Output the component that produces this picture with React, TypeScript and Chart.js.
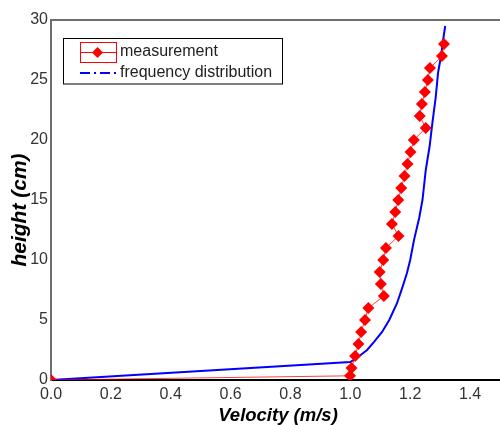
import React, { useEffect, useRef } from "react";
import { Chart, registerables } from "chart.js";

Chart.register(...registerables);

const measVelocity = [0, 0.999, 1.004, 1.016, 1.027, 1.036, 1.049, 1.06, 1.112, 1.102, 1.098, 1.11, 1.119, 1.161, 1.139, 1.15, 1.16, 1.17, 1.181, 1.191, 1.201, 1.212, 1.252, 1.232, 1.239, 1.249, 1.259, 1.266, 1.306, 1.313];
const measHeight = [0, 0.35, 1, 2, 3, 4, 5, 6, 7, 8, 9, 10, 11, 12, 13, 14, 15, 16, 17, 18, 19, 20, 21, 22, 23, 24, 25, 26, 27, 28];

const freqVelocity = [0, 1.0, 1.03, 1.056, 1.08, 1.106, 1.13, 1.156, 1.175, 1.189, 1.2, 1.213, 1.23, 1.241, 1.252, 1.265, 1.274, 1.285, 1.293, 1.303, 1.308, 1.317];
const freqHeight = [0, 1.5, 2.0, 2.5, 3.2, 4.0, 5.0, 6.4, 7.8, 8.9, 10, 11.7, 13.5, 15, 17.5, 19.5, 21.4, 23.5, 25.6, 27, 28, 29.5];

const xTicks = [0, 0.2, 0.4, 0.6, 0.8, 1.0, 1.2, 1.4];
const yTicks = [0, 5, 10, 15, 20, 25, 30];

const seriesNames = ["measurement", "frequency distribution"];
const xTitle = "Velocity (m/s)";
const yTitle = "height (cm)";

const decorPlugin = {
  id: "decor",
  afterDraw(chart: any) {
    const { ctx, chartArea } = chart;
    const { left, top, right } = chartArea;
    ctx.save();
    ctx.strokeStyle = "#6e6e6e";
    ctx.lineWidth = 2;
    ctx.beginPath();
    ctx.moveTo(left, top);
    ctx.lineTo(right, top);
    ctx.stroke();

    ctx.fillStyle = "#000";
    ctx.textAlign = "center";
    ctx.textBaseline = "middle";
    ctx.font = "italic bold 18.5px 'Liberation Sans', Arial, sans-serif";
    ctx.fillText(xTitle, 278, 416);
    ctx.save();
    ctx.font = "italic bold 21px 'Liberation Sans', Arial, sans-serif";
    ctx.translate(20, 210);
    ctx.rotate(-Math.PI / 2);
    ctx.fillText(yTitle, 0, 0);
    ctx.restore();

    const bx = 63.5, by = 38.5, bw = 219, bh = 45.5;
    ctx.fillStyle = "#fff";
    ctx.fillRect(bx, by, bw, bh);
    ctx.strokeStyle = "#000";
    ctx.lineWidth = 1;
    ctx.strokeRect(bx, by, bw, bh);

    ctx.strokeStyle = "#ff0000";
    ctx.strokeRect(80.5, 42.5, 36, 20);
    ctx.beginPath();
    ctx.moveTo(80, 52.5);
    ctx.lineTo(116, 52.5);
    ctx.stroke();
    ctx.fillStyle = "#ff0000";
    ctx.beginPath();
    ctx.moveTo(97.5, 47);
    ctx.lineTo(103, 52.5);
    ctx.lineTo(97.5, 58);
    ctx.lineTo(92, 52.5);
    ctx.closePath();
    ctx.fill();

    ctx.strokeStyle = "#0000ff";
    ctx.lineWidth = 2;
    ctx.setLineDash([10, 4, 2, 4]);
    ctx.beginPath();
    ctx.moveTo(80, 73);
    ctx.lineTo(117, 73);
    ctx.stroke();
    ctx.setLineDash([]);

    ctx.fillStyle = "#222";
    ctx.font = "16px 'Liberation Sans', Arial, sans-serif";
    ctx.textAlign = "left";
    ctx.textBaseline = "middle";
    ctx.fillText(seriesNames[0], 120, 52);
    ctx.fillText(seriesNames[1], 120, 73);
    ctx.restore();
  },
};

export default function App() {
  const ref = useRef<HTMLCanvasElement>(null);
  useEffect(() => {
    if (!ref.current) return;
    const chart = new Chart(ref.current, {
      type: "scatter",
      data: {
        datasets: [
          {
            label: seriesNames[0],
            data: measVelocity.map((v, i) => ({ x: v, y: measHeight[i] })),
            showLine: true,
            borderColor: "rgba(255,0,0,0.75)",
            borderWidth: 1,
            backgroundColor: "#ff0000",
            pointBackgroundColor: "#ff0000",
            pointBorderWidth: 0,
            pointStyle: "rectRot",
            pointRadius: 6,
            clip: 0,
          },
          {
            label: seriesNames[1],
            data: freqVelocity.map((v, i) => ({ x: v, y: freqHeight[i] })),
            showLine: true,
            borderColor: "#0000ff",
            borderWidth: 2,
            pointRadius: 0,
            clip: 0,
          },
        ],
      },
      options: {
        animation: false,
        responsive: false,
        maintainAspectRatio: false,
        layout: { autoPadding: false, padding: { top: 20, right: 0, left: 0, bottom: 0 } },
        plugins: {
          legend: { display: false },
          tooltip: { enabled: false },
        },
        scales: {
          x: {
            type: "linear",
            min: 0,
            max: 1.5,
            afterBuildTicks: (s: any) => {
              s.ticks = xTicks.map((v) => ({ value: v }));
            },
            afterFit: (s: any) => {
              s.height = 45;
            },
            grid: { display: false, drawTicks: false },
            border: { display: true, color: "#000", width: 2 },
            ticks: {
              padding: 5,
              color: "#333",
              font: { family: "'Liberation Sans', Arial, sans-serif", size: 16 },
              callback: (v: any) => Number(v).toFixed(1),
              maxRotation: 0,
              autoSkip: false,
            },
          },
          y: {
            type: "linear",
            min: 0,
            max: 30,
            afterBuildTicks: (s: any) => {
              s.ticks = yTicks.map((v) => ({ value: v }));
            },
            afterFit: (s: any) => {
              s.width = 51;
            },
            grid: { display: false, drawTicks: false },
            border: { display: true, color: "#6e6e6e", width: 2 },
            ticks: {
              padding: 3,
              color: "#333",
              font: { family: "'Liberation Sans', Arial, sans-serif", size: 16 },
              autoSkip: false,
            },
          },
        },
      },
      plugins: [decorPlugin],
    } as any);
    return () => chart.destroy();
  }, []);
  return (
    <div style={{ position: "fixed", left: 0, top: 0, width: 500, height: 425, background: "#fff" }}>
      <canvas ref={ref} width={500} height={425} style={{ width: 500, height: 425 }} />
    </div>
  );
}
